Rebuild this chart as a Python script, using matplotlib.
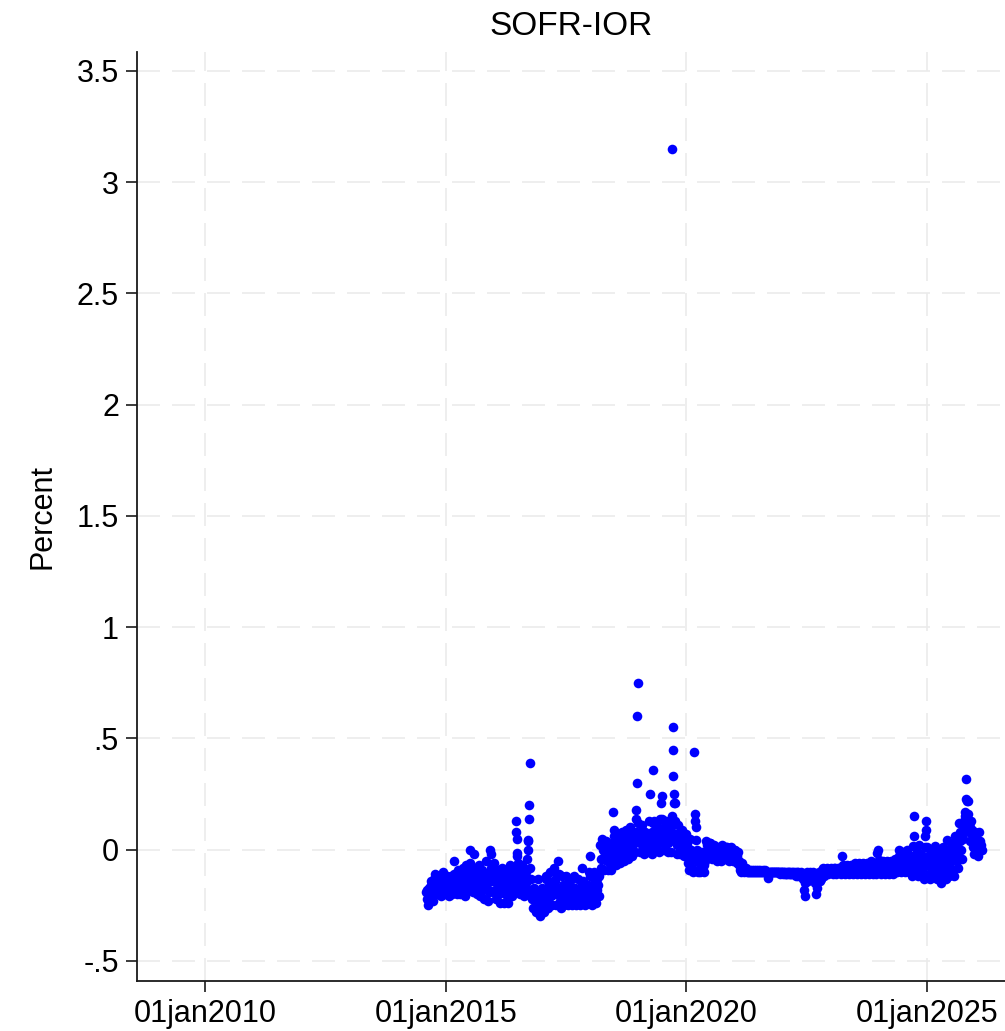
import numpy as np
import pandas as pd
import matplotlib
matplotlib.use("Agg")
import matplotlib.pyplot as plt
import matplotlib.dates as mdates

plt.rcParams['font.family'] = ['Liberation Sans', 'DejaVu Sans']

sofr_2014 = [  # Aug..Dec
    [-0.19, -0.22, -0.18, -0.25, -0.20, -0.17],
    [-0.21, -0.16, -0.14, -0.19, -0.23, -0.18],
    [-0.13, -0.17, -0.11, -0.15, -0.20, -0.14],
    [-0.12, -0.16, -0.18, -0.13, -0.21, -0.15],
    [-0.14, -0.10, -0.17, -0.19, -0.13, -0.20],
]
sofr_2015 = [
    [-0.15, -0.19, -0.12, -0.17, -0.21, -0.14],
    [-0.16, -0.12, -0.18, -0.14, -0.20, -0.13],
    [-0.05, -0.11, -0.15, -0.18, -0.13, -0.20],
    [-0.14, -0.09, -0.17, -0.20, -0.12, -0.16],
    [-0.10, -0.15, -0.08, -0.19, -0.13, -0.21],
    [-0.07, -0.12, -0.16, -0.10, -0.18, -0.14],
    [0.00, -0.06, -0.11, -0.15, -0.09, -0.19],
    [-0.02, -0.08, -0.13, -0.17, -0.10, -0.20],
    [-0.12, -0.07, -0.16, -0.21, -0.11, -0.14],
    [-0.09, -0.14, -0.18, -0.22, -0.12, -0.16],
    [-0.05, -0.11, -0.17, -0.23, -0.13, -0.19],
    [0.00, -0.02, -0.08, -0.14, -0.19, -0.11],
]
sofr_2016 = [
    [-0.06, -0.12, -0.18, -0.22, -0.15, -0.10],
    [-0.09, -0.15, -0.20, -0.24, -0.13, -0.17],
    [-0.08, -0.13, -0.19, -0.24, -0.16, -0.11],
    [-0.10, -0.15, -0.21, -0.24, -0.13, -0.18],
    [-0.07, -0.12, -0.17, -0.21, -0.14, -0.09],
    [-0.08, -0.14, -0.19, -0.12, 0.13, 0.08, 0.05, -0.015, -0.03],
    [-0.06, -0.11, -0.16, -0.20, -0.13, -0.09],
    [-0.07, -0.12, -0.18, -0.21, -0.15, -0.10],
    [-0.10, -0.15, -0.19, -0.04, 0.0, 0.04, 0.045, 0.14, 0.20, 0.39],
    [-0.08, -0.13, -0.18, -0.22, -0.26, -0.20],
    [-0.17, -0.21, -0.25, -0.28, -0.23, -0.19],
    [-0.13, -0.20, -0.24, -0.30, -0.26, -0.22],
]
sofr_2017 = [
    [-0.17, -0.21, -0.25, -0.28, -0.23, -0.13],
    [-0.12, -0.18, -0.22, -0.26, -0.20, -0.15],
    [-0.10, -0.16, -0.21, -0.25, -0.19, -0.14],
    [-0.08, -0.14, -0.20, -0.25, -0.18, -0.12],
    [-0.05, -0.11, -0.17, -0.23, -0.26, -0.20],
    [-0.12, -0.16, -0.21, -0.25, -0.19, -0.23],
    [-0.12, -0.17, -0.22, -0.25, -0.20, -0.14],
    [-0.14, -0.19, -0.23, -0.25, -0.21, -0.17],
    [-0.12, -0.17, -0.21, -0.25, -0.19, -0.23],
    [-0.13, -0.18, -0.22, -0.25, -0.20, -0.15],
    [-0.08, -0.14, -0.19, -0.23, -0.25, -0.17],
    [-0.19, -0.24, -0.21, -0.16, -0.10, -0.03],
]
sofr_2018 = [
    [-0.12, -0.17, -0.21, -0.25, -0.19, -0.15],
    [-0.10, -0.15, -0.20, -0.24, -0.18, -0.13],
    [-0.16, -0.21, -0.12, 0.02, -0.04, -0.08],
    [0.05, 0.00, -0.04, -0.09, -0.02, 0.03],
    [0.04, -0.01, -0.05, -0.09, -0.03, 0.02],
    [0.00, -0.06, -0.09, -0.02, 0.03, 0.17, 0.09],
    [0.06, 0.01, -0.03, -0.07, -0.01, 0.03],
    [0.07, 0.02, -0.02, -0.06, 0.00, 0.04],
    [0.08, 0.03, -0.01, -0.05, 0.01, 0.05],
    [0.09, 0.04, 0.00, -0.04, 0.02, 0.06],
    [0.10, 0.05, 0.01, -0.03, 0.03, 0.07],
    [0.03, -0.01, 0.05, 0.08, 0.14, 0.18, 0.30, 0.60, 0.75],
]
sofr_2019 = [
    [0.12, 0.07, 0.03, -0.01, 0.05, 0.09],
    [0.11, 0.06, 0.02, -0.02, 0.04, 0.08],
    [0.07, 0.03, -0.01, 0.05, 0.13, 0.25],
    [0.06, 0.02, -0.02, 0.08, 0.12, 0.36],
    [0.13, 0.08, 0.04, 0.00, 0.06, 0.10],
    [0.08, 0.03, -0.01, 0.05, 0.14, 0.21, 0.24],
    [0.14, 0.09, 0.04, 0.00, 0.06, 0.11],
    [0.13, 0.08, 0.03, -0.01, 0.05, 0.10],
    [0.04, -0.01, 0.06, 0.10, 0.15, 3.15, 0.55, 0.45, 0.33, 0.21],
    [0.25, 0.21, 0.13, 0.07, 0.02, -0.02, 0.04],
    [0.11, 0.06, 0.02, -0.02, 0.04, 0.08],
    [0.09, 0.04, 0.00, -0.03, 0.02, 0.06],
]
sofr_2020 = [
    [0.07, 0.02, -0.02, -0.06, -0.09, 0.00],
    [0.05, 0.00, -0.04, -0.08, -0.10, -0.02],
    [0.44, 0.16, 0.13, 0.10, 0.045, 0.00, -0.05, -0.10],
    [-0.02, -0.05, -0.08, -0.10, -0.06, -0.03],
    [-0.01, -0.04, -0.07, -0.10, -0.05, -0.02],
    [0.04, 0.02, -0.01, -0.03, 0.01, 0.03],
    [0.03, 0.01, -0.02, -0.04, 0.00, 0.02],
    [0.01, -0.01, -0.03, -0.05, -0.02, 0.00],
    [0.01, -0.01, -0.03, -0.05, -0.02, 0.01],
    [0.02, 0.00, -0.02, -0.04, -0.01, 0.01],
    [0.01, -0.01, -0.03, -0.05, -0.02, 0.00],
    [0.01, -0.01, -0.03, -0.05, -0.02, 0.00],
]
sofr_2021 = [
    [0.00, -0.02, -0.04, -0.06, -0.03, -0.01],
    [-0.05, -0.07, -0.09, -0.10, -0.08, -0.06],
    [-0.07, -0.08, -0.09, -0.10, -0.09, -0.08],
    [-0.09, -0.10, -0.10, -0.09, -0.10, -0.10],
    [-0.09, -0.10, -0.10, -0.09, -0.10, -0.10],
    [-0.09, -0.10, -0.10, -0.09, -0.10, -0.10],
    [-0.09, -0.10, -0.10, -0.09, -0.10, -0.10],
    [-0.09, -0.10, -0.10, -0.09, -0.10, -0.10],
    [-0.10, -0.10, -0.125, -0.11, -0.10, -0.10],
    [-0.10, -0.10, -0.10, -0.10, -0.10, -0.10],
    [-0.10, -0.10, -0.10, -0.10, -0.10, -0.10],
    [-0.10, -0.10, -0.11, -0.10, -0.10, -0.10],
]
sofr_2022 = [
    [-0.10, -0.11, -0.10, -0.11, -0.10, -0.11],
    [-0.10, -0.11, -0.10, -0.11, -0.10, -0.11],
    [-0.10, -0.11, -0.10, -0.11, -0.10, -0.11],
    [-0.10, -0.11, -0.12, -0.11, -0.10, -0.12],
    [-0.10, -0.11, -0.12, -0.11, -0.10, -0.12],
    [-0.11, -0.13, -0.18, -0.21, -0.15, -0.12],
    [-0.10, -0.12, -0.14, -0.11, -0.13, -0.10],
    [-0.11, -0.13, -0.12, -0.10, -0.11, -0.12],
    [-0.12, -0.15, -0.20, -0.17, -0.13, -0.11],
    [-0.10, -0.12, -0.14, -0.11, -0.13, -0.09],
    [-0.08, -0.10, -0.12, -0.11, -0.09, -0.10],
    [-0.08, -0.10, -0.11, -0.09, -0.10, -0.10],
]
sofr_2023 = [
    [-0.08, -0.09, -0.10, -0.11, -0.09, -0.08],
    [-0.08, -0.09, -0.11, -0.10, -0.09, -0.08],
    [-0.08, -0.09, -0.10, -0.11, -0.09, -0.03],
    [-0.07, -0.09, -0.10, -0.11, -0.09, -0.08],
    [-0.07, -0.09, -0.10, -0.11, -0.09, -0.08],
    [-0.07, -0.09, -0.10, -0.11, -0.09, -0.08],
    [-0.06, -0.08, -0.10, -0.11, -0.09, -0.07],
    [-0.06, -0.08, -0.10, -0.11, -0.09, -0.07],
    [-0.06, -0.08, -0.10, -0.11, -0.09, -0.07],
    [-0.06, -0.08, -0.10, -0.11, -0.09, -0.07],
    [-0.05, -0.08, -0.10, -0.11, -0.09, -0.07],
    [-0.06, -0.09, -0.11, -0.08, -0.015, 0.00],
]
sofr_2024 = [
    [-0.045, -0.07, -0.09, -0.11, -0.08, -0.06],
    [-0.05, -0.07, -0.09, -0.11, -0.08, -0.06],
    [-0.05, -0.07, -0.09, -0.11, -0.08, -0.06],
    [-0.05, -0.07, -0.09, -0.11, -0.08, -0.06],
    [-0.04, -0.06, -0.08, -0.10, -0.07, -0.05],
    [0.00, -0.03, -0.06, -0.09, -0.10, -0.05],
    [-0.01, -0.04, -0.07, -0.10, -0.06, -0.03],
    [0.00, -0.03, -0.06, -0.10, -0.08, -0.04],
    [-0.03, -0.07, -0.12, -0.09, -0.05, 0.015, 0.06, 0.15],
    [0.01, -0.02, -0.06, -0.10, -0.12, -0.04],
    [0.02, -0.02, -0.05, -0.09, -0.12, -0.07],
    [-0.03, -0.08, -0.13, -0.05, 0.01, 0.06, 0.09, 0.13],
]
sofr_2025 = [
    [0.01, -0.03, -0.07, -0.11, -0.13, -0.05],
    [0.00, -0.04, -0.08, -0.12, -0.10, -0.06],
    [0.015, -0.03, -0.07, -0.11, -0.13, -0.05],
    [0.00, -0.04, -0.08, -0.12, -0.15, -0.06],
    [0.01, -0.03, -0.07, -0.11, -0.13, -0.05],
    [0.045, 0.00, -0.04, -0.08, -0.12, -0.02],
    [0.03, -0.01, -0.05, -0.09, -0.12, -0.03],
    [0.06, 0.02, -0.02, -0.05, -0.08, 0.04],
    [0.12, 0.08, 0.04, 0.00, -0.04, 0.06],
    [0.05, 0.09, 0.13, 0.11, 0.15, 0.17, 0.23, 0.32],
    [0.22, 0.22, 0.16, 0.12, 0.08, 0.04, 0.10],
    [0.13, 0.09, 0.05, 0.01, -0.02, 0.07],
]
sofr_2026 = [
    [0.08, 0.05, 0.02, -0.01, -0.03, 0.04],
    [0.08, 0.04, 0.02, 0.00],
]

years = [2014, 2015, 2016, 2017, 2018, 2019, 2020, 2021, 2022, 2023, 2024, 2025, 2026]
first_month = [8, 1, 1, 1, 1, 1, 1, 1, 1, 1, 1, 1, 1]
by_year = [sofr_2014, sofr_2015, sofr_2016, sofr_2017, sofr_2018, sofr_2019, sofr_2020,
           sofr_2021, sofr_2022, sofr_2023, sofr_2024, sofr_2025, sofr_2026]

ytick_vals = [-0.5, 0, 0.5, 1, 1.5, 2, 2.5, 3, 3.5]
ytick_labels = ['-.5', '0', '.5', '1', '1.5', '2', '2.5', '3', '3.5']
xtick_dates = ['2010-01-01', '2015-01-01', '2020-01-01', '2025-01-01']
xtick_labels = ['01jan2010', '01jan2015', '01jan2020', '01jan2025']

# spread each month's observations over the days of that month
dates, vals = [], []
for yr, m0, months in zip(years, first_month, by_year):
    for i, obs in enumerate(months):
        start = pd.Timestamp(yr, m0 + i, 1)
        ndays = start.days_in_month
        for k, v in enumerate(obs):
            dates.append(start + pd.Timedelta(days=(k + 0.5) * ndays / len(obs)))
            vals.append(v)

fig = plt.figure(figsize=(10.05, 10.31), dpi=100)
ax = fig.add_axes([0.1363, 0.0485, 0.8637, 0.9011])

ax.scatter(dates, vals, s=48, color='#0000ff', linewidths=0, zorder=3)

ax.set_ylim(-0.59, 3.585)
ax.set_xlim(pd.Timestamp('2008-08-01'), pd.Timestamp('2026-08-19'))
ax.set_yticks(ytick_vals)
ax.set_yticklabels(ytick_labels)
ax.set_xticks([pd.Timestamp(d) for d in xtick_dates])
ax.set_xticklabels(xtick_labels)

ax.grid(True, color='#ebebeb', linewidth=1.2, linestyle=(0, (13.8, 7.2)), zorder=0)
ax.set_axisbelow(True)
ax.spines['top'].set_visible(False)
ax.spines['right'].set_visible(False)
for s in ['left', 'bottom']:
    ax.spines[s].set_linewidth(1.3)
    ax.spines[s].set_color('#1a1a1a')
ax.tick_params(axis='both', direction='out', length=8, width=1.2, color='#1a1a1a',
               labelsize=22, pad=5)

ax.set_title('SOFR-IOR', fontsize=24, pad=12)
ax.set_ylabel('Percent', fontsize=22, labelpad=14)

fig.savefig('out.png', dpi=100)
